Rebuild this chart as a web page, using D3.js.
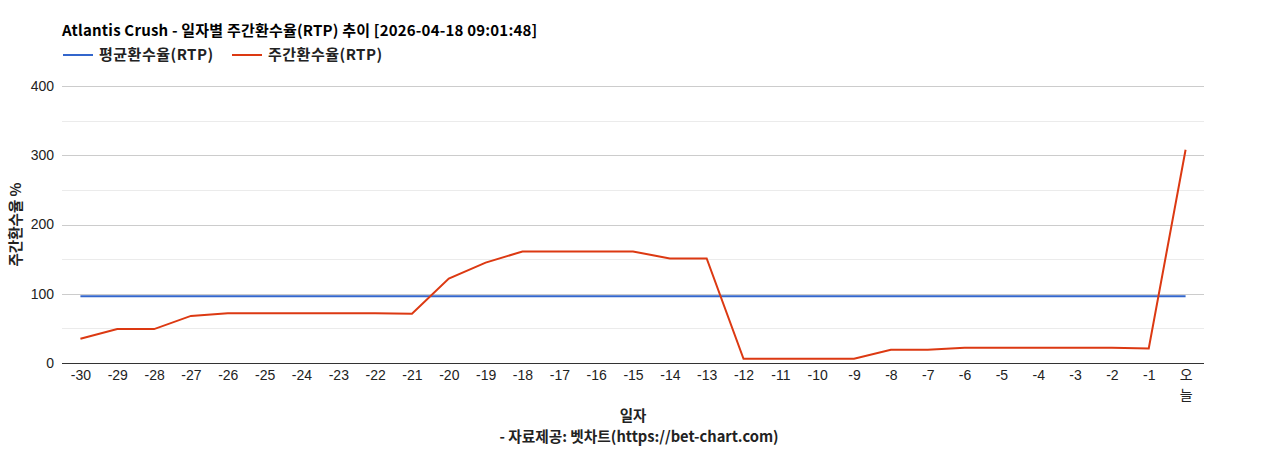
<!DOCTYPE html>
<html>
<head>
<meta charset="utf-8">
<script src="https://cdn.jsdelivr.net/npm/d3@7"></script>
<style>
  body { margin: 0; background: #fff; }
  text { font-family: "Liberation Sans", Arial, "Noto Sans CJK KR", sans-serif; }
  .ko { font-family: "Noto Sans CJK KR", sans-serif; }
</style>
</head>
<body>
<div id="chart"></div>
<script>
// categories (days)
var days = ['-30','-29','-28','-27','-26','-25','-24','-23','-22','-21','-20','-19','-18','-17','-16',
            '-15','-14','-13','-12','-11','-10','-9','-8','-7','-6','-5','-4','-3','-2','-1','오늘'];
// weekly RTP values
var weeklyRtp = [35, 49, 49, 68, 72, 72, 72, 72, 72, 71, 122, 145, 161, 161, 161,
                 161, 151, 151, 6, 6, 6, 6, 19, 19, 22, 22, 22, 22, 22, 21, 308];
// average RTP
var avgRtp = days.map(function(){ return 96.5; });
var yTicks = [0, 100, 200, 300, 400];
var yMinor = [50, 150, 250, 350];

var width = 1268, height = 450;
var plotLeft = 62, plotRight = 1204, plotTop = 86, plotBottom = 363;

var svg = d3.select('#chart')
  .append('svg')
  .attr('width', width)
  .attr('height', height);

// Scales
var x = d3.scalePoint()
  .domain(days)
  .range([plotLeft, plotRight])
  .padding(0.5);
var y = d3.scaleLinear()
  .domain([0, 400])
  .range([plotBottom, plotTop]);

// Gridlines
svg.selectAll('line.minor')
  .data(yMinor)
  .enter()
  .append('line')
  .attr('x1', plotLeft).attr('x2', plotRight)
  .attr('y1', function(d){ return Math.round(y(d)) + 0.5; })
  .attr('y2', function(d){ return Math.round(y(d)) + 0.5; })
  .attr('stroke', '#ebebeb');
svg.selectAll('line.major')
  .data(yTicks.slice(1))
  .enter()
  .append('line')
  .attr('x1', plotLeft).attr('x2', plotRight)
  .attr('y1', function(d){ return Math.round(y(d)) + 0.5; })
  .attr('y2', function(d){ return Math.round(y(d)) + 0.5; })
  .attr('stroke', '#cccccc');

// Y axis labels
var yAxis = d3.axisLeft(y).tickValues(yTicks).tickSize(0).tickPadding(8);
svg.append('g')
  .attr('transform', 'translate(' + plotLeft + ',0)')
  .call(yAxis)
  .call(function(g){ g.select('.domain').remove(); })
  .selectAll('text')
  .attr('font-size', 14)
  .attr('fill', '#222');

// X axis
var xAxis = d3.axisBottom(x).tickSize(0).tickPadding(7);
var gx = svg.append('g')
  .attr('transform', 'translate(0,' + plotBottom + ')')
  .call(xAxis);
gx.select('.domain').remove();
gx.selectAll('text')
  .attr('font-size', 14)
  .attr('fill', '#222')
  .each(function(d){
    if (d === '오늘') {
      var t = d3.select(this).text(null).attr('class', 'ko').attr('dy', null);
      t.append('tspan').attr('x', 0).attr('dy', '0.71em').text('오');
      t.append('tspan').attr('x', 0).attr('dy', '1.45em').text('늘');
    }
  });
svg.append('line')
  .attr('x1', plotLeft).attr('x2', plotRight)
  .attr('y1', plotBottom + 0.5).attr('y2', plotBottom + 0.5)
  .attr('stroke', '#333');

// Lines
var line = d3.line()
  .x(function(d, i){ return x(days[i]); })
  .y(function(d){ return y(d); });

svg.append('path')
  .datum(avgRtp)
  .attr('d', line)
  .attr('fill', 'none')
  .attr('stroke', '#3366cc')
  .attr('stroke-width', 2);

svg.append('path')
  .datum(weeklyRtp)
  .attr('d', line)
  .attr('fill', 'none')
  .attr('stroke', '#dc3912')
  .attr('stroke-width', 2);

// Title
svg.append('text')
  .attr('class', 'ko')
  .attr('x', 62).attr('y', 36)
  .attr('font-size', 15)
  .attr('letter-spacing', 0.2)
  .attr('font-weight', 'bold')
  .attr('fill', '#000')
  .text('Atlantis Crush - 일자별 주간환수율(RTP) 추이 [2026-04-18 09:01:48]');

// Legend
var legend = [
  { name: '평균환수율(RTP)', color: '#3366cc', x: 63 },
  { name: '주간환수율(RTP)', color: '#dc3912', x: 232 }
];
var lg = svg.selectAll('g.legend')
  .data(legend)
  .enter()
  .append('g')
  .attr('transform', function(d){ return 'translate(' + d.x + ',55)'; });
lg.append('line')
  .attr('x1', 0).attr('x2', 30)
  .attr('stroke', function(d){ return d.color; })
  .attr('stroke-width', 2);
lg.append('text')
  .attr('class', 'ko')
  .attr('x', 36).attr('y', 5)
  .attr('font-size', 15)
  .attr('letter-spacing', 0.5)
  .attr('font-weight', 'bold')
  .attr('fill', '#222')
  .text(function(d){ return d.name; });

// Axis titles
svg.append('text')
  .attr('class', 'ko')
  .attr('transform', 'translate(21,' + ((plotTop + plotBottom) / 2) + ') rotate(-90)')
  .attr('text-anchor', 'middle')
  .attr('font-size', 14.5)
  .attr('font-weight', 'bold')
  .attr('fill', '#222')
  .text('주간환수율 %');

svg.append('text')
  .attr('class', 'ko')
  .attr('x', (plotLeft + plotRight) / 2).attr('y', 421)
  .attr('text-anchor', 'middle')
  .attr('font-size', 14.5)
  .attr('font-weight', 'bold')
  .attr('fill', '#222')
  .text('일자');

svg.append('text')
  .attr('class', 'ko')
  .attr('x', 639).attr('y', 442)
  .attr('text-anchor', 'middle')
  .attr('font-size', 14.7)
  .attr('font-weight', 'bold')
  .attr('fill', '#222')
  .text('- 자료제공: 벳차트(https://bet-chart.com)');
</script>
</body>
</html>
